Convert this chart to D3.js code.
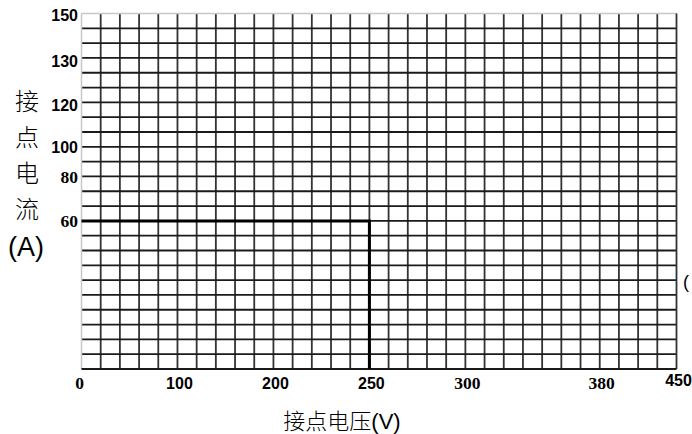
<!DOCTYPE html>
<html>
<head>
<meta charset="utf-8">
<script src="https://cdn.jsdelivr.net/npm/d3@7"></script>
<style>
  body { margin: 0; background: #fff; }
  svg { display: block; }
</style>
</head>
<body>
<script>
// grid size (cells)
const gridCols = 31;
const gridRows = 24;

// x axis: tick labels and the grid column they sit on
const xTickValues = [0, 100, 200, 250, 300, 380, 450];
const xTickCols = [0, 5, 10, 15, 20, 27, 31];

// y axis: tick labels and the grid row (from bottom) they sit on
const yTickValues = [0, 60, 80, 100, 120, 130, 150];
const yTickRows = [0, 10, 13, 15, 18, 21, 24];
const yTickShown = [60, 80, 100, 120, 130, 150];

// limit curve
const curveVoltage = [0, 250, 250];
const curveCurrent = [60, 60, 0];

// labels drawn in a serif face in the original
const serifLabels = ["0", "300", "380", "80", "60"];

const w = 692;
const h = 434;

const svg = d3.select("body")
  .append("svg")
  .attr("width", w)
  .attr("height", h);

// grid scales
const gx = d3.scaleLinear().domain([0, gridCols]).range([81.5, 676.5]);
const gy = d3.scaleLinear().domain([0, gridRows]).range([369, 13.5]);

// piecewise value scales
const x = d3.scaleLinear().domain(xTickValues).range(xTickCols.map(gx));
const y = d3.scaleLinear().domain(yTickValues).range(yTickRows.map(gy));

const isSerif = (d) => serifLabels.includes(String(d));
const fontFor = (d) => isSerif(d)
  ? "'Liberation Serif', 'DejaVu Serif', serif"
  : "'Liberation Sans Narrow', 'Liberation Sans', Arial, sans-serif";
const sizeFor = (d) => isSerif(d) ? "17.5px" : "16px";

// grid lines
svg.append("g")
  .selectAll("line")
  .data(d3.range(1, gridCols))
  .enter()
  .append("line")
  .attr("x1", (d) => gx(d))
  .attr("x2", (d) => gx(d))
  .attr("y1", gy(gridRows))
  .attr("y2", gy(0))
  .attr("stroke", "#333")
  .attr("stroke-width", 1.8);

svg.append("g")
  .selectAll("line")
  .data(d3.range(1, gridRows))
  .enter()
  .append("line")
  .attr("x1", gx(0))
  .attr("x2", gx(gridCols))
  .attr("y1", (d) => gy(d))
  .attr("y2", (d) => gy(d))
  .attr("stroke", "#1a1a1a")
  .attr("stroke-width", 1.8);

// frame: light top/left, dark right/bottom
svg.append("line")
  .attr("x1", gx(0)).attr("x2", gx(gridCols))
  .attr("y1", gy(gridRows)).attr("y2", gy(gridRows))
  .attr("stroke", "#c8c8c8").attr("stroke-width", 1.5);
svg.append("line")
  .attr("x1", gx(0)).attr("x2", gx(0))
  .attr("y1", gy(gridRows)).attr("y2", gy(0))
  .attr("stroke", "#c8c8c8").attr("stroke-width", 1.5);
svg.append("line")
  .attr("x1", gx(gridCols)).attr("x2", gx(gridCols))
  .attr("y1", gy(gridRows)).attr("y2", gy(0))
  .attr("stroke", "#333").attr("stroke-width", 1.8);
svg.append("line")
  .attr("x1", gx(0)).attr("x2", gx(gridCols))
  .attr("y1", gy(0)).attr("y2", gy(0))
  .attr("stroke", "#1a1a1a").attr("stroke-width", 1.8);

// limit curve
const curve = curveVoltage.map((v, i) => [v, curveCurrent[i]]);
svg.append("path")
  .datum(curve)
  .attr("d", d3.line().x((d) => x(d[0])).y((d) => y(d[1])))
  .attr("fill", "none")
  .attr("stroke", "#000")
  .attr("stroke-width", 3);

// x tick labels
svg.append("g")
  .selectAll("text")
  .data(xTickValues)
  .enter()
  .append("text")
  .attr("x", (d) => x(d) + (d === 0 ? -2 : 2))
  .attr("y", (d) => d === 450 ? 386 : 389)
  .attr("text-anchor", "middle")
  .style("font-family", fontFor)
  .style("font-weight", "bold")
  .style("font-size", sizeFor)
  .text((d) => d);

// y tick labels
svg.append("g")
  .selectAll("text")
  .data(yTickShown)
  .enter()
  .append("text")
  .attr("x", 78)
  .attr("y", (d) => y(d) + (d === 150 ? 7.5 : (d === 120 || d === 130) ? 9 : 6.5))
  .attr("text-anchor", "end")
  .style("font-family", fontFor)
  .style("font-weight", "bold")
  .style("font-size", sizeFor)
  .text((d) => d);

// y axis title, stacked vertically
const yTitle = ["接", "点", "电", "流"];
svg.append("g")
  .selectAll("text")
  .data(yTitle)
  .enter()
  .append("text")
  .attr("x", 27)
  .attr("y", (d, i) => 110 + i * 36)
  .attr("text-anchor", "middle")
  .style("font-family", "'Noto Sans CJK SC', sans-serif")
  .style("font-weight", 300)
  .style("font-size", "24px")
  .text((d) => d);

svg.append("text")
  .attr("x", 26)
  .attr("y", 256)
  .attr("text-anchor", "middle")
  .style("font-family", "'Liberation Sans', Arial, sans-serif")
  .style("font-size", "27px")
  .text("(A)");

// x axis title
const xTitle = svg.append("text")
  .attr("x", 342)
  .attr("y", 429)
  .attr("text-anchor", "middle")
  .style("font-size", "22px");
xTitle.append("tspan")
  .style("font-family", "'Noto Sans CJK SC', sans-serif")
  .style("font-weight", 300)
  .text("接点电压");
xTitle.append("tspan")
  .style("font-family", "'Liberation Sans', Arial, sans-serif")
  .text("(V)");

// stray bracket at the right edge
svg.append("text")
  .attr("x", 683)
  .attr("y", 288)
  .style("font-family", "'Liberation Sans', Arial, sans-serif")
  .style("font-size", "18px")
  .text("(");
</script>
</body>
</html>
